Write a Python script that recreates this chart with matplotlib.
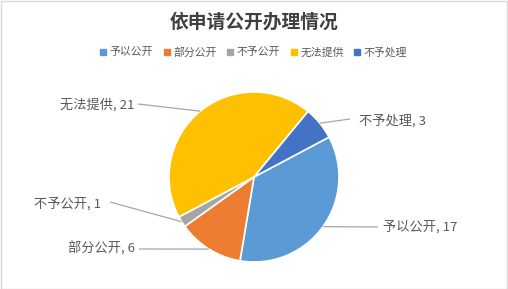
import numpy as np
import matplotlib
matplotlib.use("Agg")
import matplotlib.pyplot as plt
from matplotlib.lines import Line2D
from matplotlib.patches import Rectangle

plt.rcParams['font.family'] = ['Noto Sans CJK SC', 'DejaVu Sans']

categories = ["予以公开", "部分公开", "不予公开", "无法提供", "不予处理"]
values = [17, 6, 1, 21, 3]
colors = ["#5B9BD5", "#ED7D31", "#A5A5A5", "#FFC000", "#4472C4"]
title = "依申请公开办理情况"

W, H = 508, 289
DPI = 100
fig = plt.figure(figsize=(W / DPI, H / DPI), dpi=DPI)
fig.patch.set_facecolor("white")

# pie placement in pixels (centre and radius)
cx, cy, r = 254, 177, 85
ax = fig.add_axes([(cx - r) / W, (H - cy - r) / H, 2 * r / W, 2 * r / H])

first_angle = 62  # clockwise from 12 o'clock
wedges, _ = ax.pie(values, colors=colors, startangle=90 - first_angle,
                   counterclock=False, radius=1,
                   wedgeprops=dict(edgecolor="white", linewidth=1.2))
ax.set_xlim(-1, 1)
ax.set_ylim(-1, 1)
ax.set_aspect("equal")
ax.axis("off")

def px2data(px, py):
    return (px - cx) / r, (cy - py) / r

# label layout: (text x px, text y px, alignment)
label_pos = {
    "予以公开": (383, 227, "left"),
    "部分公开": (135, 249, "right"),
    "不予公开": (101, 204, "right"),
    "无法提供": (134, 105, "right"),
    "不予处理": (359, 121, "left"),
}
# line end near the text (px)
line_end = {
    "予以公开": (378, 227),
    "部分公开": (139, 249),
    "不予公开": (110, 202),
    "无法提供": (138, 104),
    "不予处理": (350, 119),
}

for w, cat, val in zip(wedges, categories, values):
    mid = np.deg2rad((w.theta1 + w.theta2) / 2)
    ax_, ay_ = np.cos(mid), np.sin(mid)
    ex, ey = px2data(*line_end[cat])
    ax.plot([ax_, ex], [ay_, ey], color="#A6A6A6", lw=0.9, clip_on=False,
            solid_capstyle="butt")
    tx, ty, ha = label_pos[cat]
    tdx, tdy = px2data(tx, ty)
    ax.text(tdx, tdy, f"{cat}, {val}", ha=ha, va="center", fontsize=9.5,
            color="#595959", clip_on=False)

fig.text(0.5, 1 - 22 / H, title, ha="center", va="center", fontsize=13.5,
         fontweight="bold", color="#404040")

handles = [Line2D([], [], marker="s", linestyle="none", markersize=4.5,
                  markerfacecolor=c, markeredgecolor=c) for c in colors]
fig.legend(handles, categories, loc="center", bbox_to_anchor=(0.5, 1 - 52 / H),
           ncol=5, frameon=False, fontsize=7.8, handlelength=0.5,
           handletextpad=0.35, columnspacing=1.0, labelcolor="#595959")

fig.add_artist(Rectangle((0.5 / W, 0.5 / H), 1 - 1.5 / W, 1 - 1.5 / H,
                         transform=fig.transFigure, fill=False,
                         edgecolor="#D9D9D9", lw=1))

fig.savefig("out.png", dpi=DPI)
